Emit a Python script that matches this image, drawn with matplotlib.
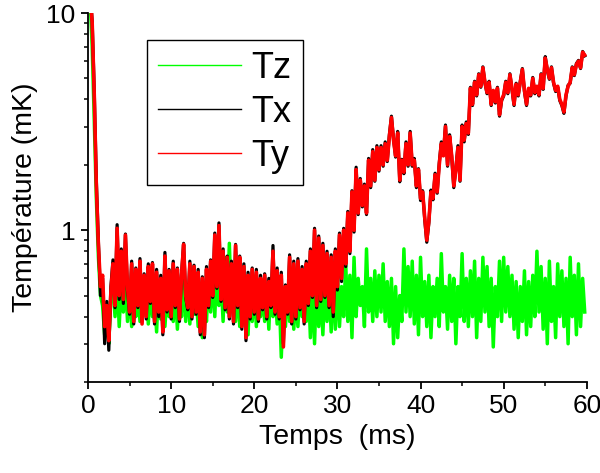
import matplotlib
matplotlib.use("Agg")
import matplotlib.pyplot as plt
from matplotlib.ticker import LogLocator, NullFormatter, MultipleLocator
import numpy as np

# Températures (mK), une valeur toutes les 0.25 ms, 4 valeurs par ligne = 1 ms
Ty = [
    14, 12.5, 9, 4.2,
    1.6, 0.85, 0.55, 0.62,
    0.36, 0.45, 0.31, 0.52,
    0.7, 0.45, 1.02, 0.5,
    0.8, 0.48, 0.95, 0.55,
    0.42, 0.7, 0.38, 0.66,
    0.45, 0.72, 0.37, 0.62,
    0.4, 0.68, 0.47, 0.7,
    0.38, 0.64, 0.42, 0.6,
    0.34, 0.76, 0.43, 0.65,
    0.4, 0.7, 0.45, 0.66,
    0.39, 0.62, 0.86, 0.5,
    0.44, 0.7, 0.4, 0.68,
    0.42, 0.64, 0.34, 0.6,
    0.33, 0.66, 0.45, 0.72,
    0.5, 0.95, 0.55, 1.05,
    0.48, 0.8, 0.44, 0.75,
    0.4, 0.7, 0.38, 0.85,
    0.45, 0.75, 0.36, 0.68,
    0.32, 0.62, 0.4, 0.66,
    0.42, 0.64, 0.39, 0.6,
    0.44, 0.62, 0.4, 0.58,
    0.45, 0.8, 0.42, 0.65,
    0.4, 0.62, 0.29, 0.55,
    0.42, 0.75, 0.38, 0.7,
    0.4, 0.72, 0.44, 0.66,
    0.38, 0.7, 0.46, 0.8,
    0.5, 1.0, 0.45, 0.92,
    0.48, 0.85, 0.5, 0.78,
    0.45, 0.75, 0.42, 0.8,
    0.55, 0.95, 0.6, 1.0,
    0.7, 1.2, 0.8, 1.5,
    1.0, 1.9, 1.2, 1.7,
    1.3, 1.6, 1.2, 2.1,
    1.6, 2.3, 1.7, 2.4,
    1.9, 2.4, 2.0, 2.5,
    2.1, 2.7, 3.3, 2.6,
    2.2, 2.8, 1.7, 2.1,
    1.85, 2.5, 2.0, 2.8,
    2.0, 2.1, 1.6, 1.9,
    1.4, 1.5, 1.15, 0.9,
    1.1, 1.5, 1.4, 1.8,
    1.5, 2.0, 2.5, 2.2,
    3.0, 2.0, 2.7, 2.2,
    1.6, 1.9, 2.4, 1.7,
    3.0, 2.6, 3.1, 2.8,
    4.5, 3.8, 4.8, 4.2,
    5.2, 4.6, 5.6, 4.8,
    4.3, 4.8, 3.8, 4.4,
    3.9, 4.5, 3.4, 4.0,
    4.2, 4.8, 4.3, 5.2,
    4.5, 3.8, 4.7, 4.2,
    4.8, 5.5, 4.4, 3.8,
    4.5, 4.2, 5.0, 4.3,
    4.6, 4.2, 5.2, 4.5,
    6.2, 5.5, 5.0, 5.6,
    4.8, 4.4, 4.6, 4.0,
    3.8, 3.5, 4.2, 4.6,
    4.8, 5.6, 5.2, 5.8,
    6.0, 5.6, 6.6, 6.4,
]

Tx = [
    14, 12.5, 9.2, 4.4,
    1.7, 0.88, 0.5, 0.6,
    0.3, 0.47, 0.28, 0.55,
    0.73, 0.44, 1.06, 0.48,
    0.82, 0.46, 0.96, 0.53,
    0.41, 0.72, 0.37, 0.67,
    0.44, 0.74, 0.38, 0.63,
    0.39, 0.7, 0.46, 0.71,
    0.37, 0.66, 0.4, 0.62,
    0.33, 0.79, 0.42, 0.66,
    0.39, 0.72, 0.44, 0.67,
    0.38, 0.63, 0.87, 0.49,
    0.43, 0.72, 0.39, 0.69,
    0.41, 0.66, 0.33, 0.61,
    0.32, 0.68, 0.44, 0.73,
    0.49, 0.97, 0.54, 1.08,
    0.47, 0.82, 0.43, 0.76,
    0.39, 0.72, 0.37, 0.86,
    0.44, 0.76, 0.35, 0.7,
    0.31, 0.64, 0.39, 0.67,
    0.41, 0.66, 0.38, 0.62,
    0.43, 0.63, 0.39, 0.6,
    0.44, 0.85, 0.41, 0.67,
    0.39, 0.64, 0.3, 0.56,
    0.41, 0.77, 0.37, 0.72,
    0.39, 0.74, 0.43, 0.68,
    0.37, 0.72, 0.45, 0.82,
    0.49, 1.02, 0.44, 0.94,
    0.47, 0.87, 0.49, 0.8,
    0.44, 0.77, 0.4, 0.82,
    0.53, 0.97, 0.58, 1.02,
    0.68, 1.22, 0.78, 1.52,
    0.98, 1.95, 1.18, 1.73,
    1.28, 1.63, 1.18, 2.14,
    1.57, 2.35, 1.68, 2.45,
    1.87, 2.45, 1.97, 2.55,
    2.07, 2.75, 3.35, 2.62,
    2.17, 2.85, 1.67, 2.12,
    1.82, 2.55, 1.97, 2.85,
    1.97, 2.14, 1.57, 1.92,
    1.37, 1.52, 1.12, 0.88,
    1.08, 1.53, 1.38, 1.83,
    1.48, 2.04, 2.55, 2.23,
    3.05, 1.97, 2.75, 2.17,
    1.57, 1.93, 2.45, 1.68,
    3.05, 2.55, 3.15, 2.76,
    4.55, 3.75, 4.85, 4.15,
    5.25, 4.55, 5.65, 4.75,
    4.25, 4.85, 3.75, 4.35,
    3.85, 4.55, 3.35, 3.95,
    4.15, 4.85, 4.25, 5.25,
    4.45, 3.75, 4.75, 4.15,
    4.85, 5.55, 4.35, 3.75,
    4.45, 4.15, 5.05, 4.25,
    4.55, 4.15, 5.25, 4.45,
    6.3, 5.45, 4.95, 5.65,
    4.75, 4.35, 4.55, 3.95,
    3.75, 3.45, 4.15, 4.65,
    4.75, 5.65, 5.15, 5.85,
    6.05, 5.55, 6.65, 6.35,
]

Tz = [
    14, 11.5, 7, 3.2,
    1.4, 0.75, 0.5, 0.45,
    0.33, 0.42, 0.3, 0.5,
    0.55, 0.4, 0.62, 0.36,
    0.58, 0.42, 0.6, 0.38,
    0.55, 0.36, 0.6, 0.4,
    0.52, 0.38, 0.58, 0.42,
    0.6, 0.37, 0.55, 0.4,
    0.5, 0.34, 0.58, 0.39,
    0.55, 0.36, 0.5, 0.4,
    0.6, 0.38, 0.55, 0.35,
    0.52, 0.4, 0.62, 0.38,
    0.56, 0.37, 0.6, 0.41,
    0.5, 0.36, 0.55, 0.32,
    0.48, 0.38, 0.6, 0.42,
    0.65, 0.4, 0.7, 0.45,
    0.6, 0.38, 0.75, 0.42,
    0.87, 0.45, 0.6, 0.38,
    0.55, 0.36, 0.6, 0.4,
    0.5, 0.33, 0.56, 0.38,
    0.55, 0.36, 0.52, 0.4,
    0.5, 0.38, 0.55, 0.35,
    0.6, 0.4, 0.52, 0.37,
    0.5, 0.26, 0.48, 0.36,
    0.55, 0.38, 0.58, 0.35,
    0.5, 0.36, 0.56, 0.4,
    0.62, 0.38, 0.58, 0.32,
    0.55, 0.3, 0.6, 0.36,
    0.52, 0.33, 0.58, 0.38,
    0.56, 0.34, 0.6, 0.35,
    0.62, 0.36, 0.55, 0.4,
    0.7, 0.38, 0.62, 0.32,
    0.75, 0.4, 0.6, 0.45,
    0.55, 0.36, 0.82, 0.42,
    0.6, 0.38, 0.65, 0.4,
    0.62, 0.42, 0.7, 0.38,
    0.58, 0.36, 0.6, 0.3,
    0.55, 0.32, 0.5, 0.38,
    0.82, 0.42, 0.68, 0.4,
    0.72, 0.37, 0.62, 0.33,
    0.75, 0.4, 0.58, 0.36,
    0.62, 0.32, 0.55, 0.4,
    0.6, 0.36, 0.78, 0.42,
    0.55, 0.35, 0.62, 0.38,
    0.6, 0.3, 0.55, 0.4,
    0.78, 0.38, 0.6, 0.36,
    0.65, 0.4, 0.72, 0.32,
    0.6, 0.38, 0.75, 0.42,
    0.68, 0.36, 0.6, 0.29,
    0.55, 0.4, 0.72, 0.38,
    0.75, 0.42, 0.68, 0.4,
    0.62, 0.35, 0.58, 0.32,
    0.55, 0.38, 0.65, 0.33,
    0.58, 0.36, 0.62, 0.4,
    0.8, 0.42, 0.68, 0.35,
    0.6, 0.3, 0.72, 0.38,
    0.55, 0.32, 0.7, 0.4,
    0.65, 0.36, 0.6, 0.3,
    0.75, 0.4, 0.62, 0.33,
    0.7, 0.36, 0.6, 0.42,
]

dt = 0.25  # ms
temps = np.arange(len(Ty)) * dt

plt.rcParams['font.family'] = ['Liberation Sans', 'DejaVu Sans']

fig = plt.figure(figsize=(6.0, 4.73), dpi=100)
ax = fig.add_axes([0.1467, 0.1924, 0.8313, 0.7801])

ax.plot(temps, Tz, color='#00ff00', linewidth=2.5, label='Tz')
ax.plot(temps, Tx, color='#000000', linewidth=2.3, label='Tx')
ax.plot(temps, Ty, color='#ff0000', linewidth=2.6, label='Ty')

ax.set_yscale('log')
ax.set_xlim(0, 60)
ax.set_ylim(0.2, 10)

ax.spines['top'].set_visible(False)
ax.spines['right'].set_visible(False)
for s in ('left', 'bottom'):
    ax.spines[s].set_linewidth(1.3)

ax.set_xticks([0, 10, 20, 30, 40, 50, 60])
ax.xaxis.set_minor_locator(MultipleLocator(5))
ax.set_yticks([1, 10])
ax.set_yticklabels(['1', '10'])
ax.yaxis.set_minor_locator(LogLocator(base=10, subs=np.arange(2, 10)))
ax.yaxis.set_minor_formatter(NullFormatter())

ax.tick_params(which='major', direction='out', length=5, width=1.3,
               labelsize=19, pad=4)
ax.tick_params(which='minor', direction='out', length=3, width=1.1)

ax.set_xlabel('Temps  (ms)', fontsize=20.5, labelpad=4)
ax.set_ylabel('Température (mK)', fontsize=20.5, labelpad=6)

leg = ax.legend(loc='upper left', bbox_to_anchor=(0.118, 0.927),
                fontsize=26, frameon=True, fancybox=False, framealpha=1,
                edgecolor='black', handlelength=2.3, handletextpad=0.3,
                labelspacing=0.25, borderpad=0.3, borderaxespad=0)
leg.get_frame().set_linewidth(1.0)
for line in leg.get_lines():
    line.set_linewidth(1.0)

fig.savefig('out.png', dpi=100)
